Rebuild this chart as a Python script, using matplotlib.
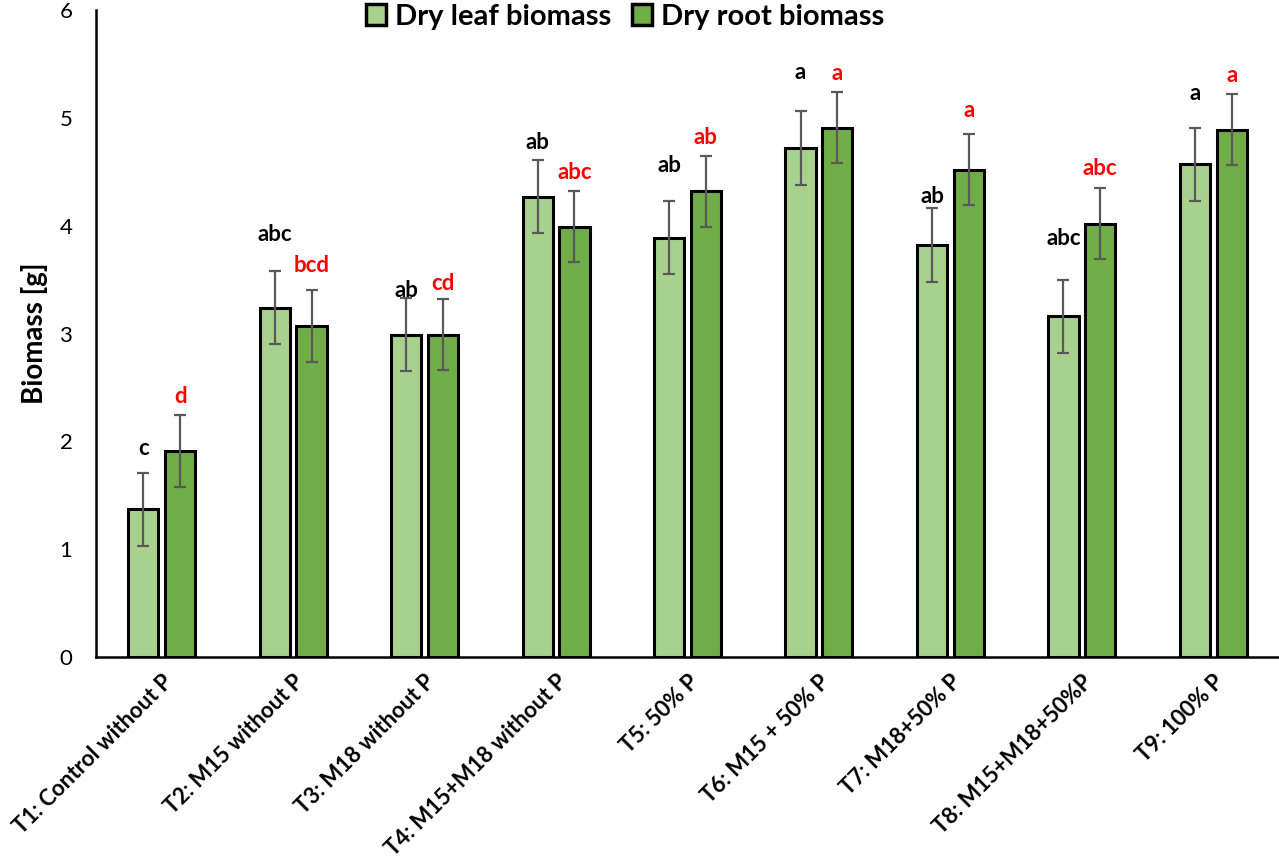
import matplotlib
matplotlib.use("Agg")
import matplotlib.pyplot as plt
import numpy as np

categories = ["T1: Control without P", "T2: M15 without P", "T3: M18 without P",
              "T4: M15+M18 without P", "T5: 50% P", "T6: M15 + 50% P",
              "T7: M18+50% P", "T8: M15+M18+50%P", "T9: 100% P"]
leaf = [1.37, 3.24, 2.99, 4.27, 3.89, 4.72, 3.82, 3.16, 4.57]
root = [1.91, 3.07, 2.99, 3.99, 4.32, 4.91, 4.52, 4.02, 4.89]
leaf_err = [0.34, 0.34, 0.34, 0.34, 0.34, 0.34, 0.34, 0.34, 0.34]
root_err = [0.33, 0.33, 0.33, 0.33, 0.33, 0.33, 0.33, 0.33, 0.33]
leaf_letters = ["c", "abc", "ab", "ab", "ab", "a", "ab", "abc", "a"]
root_letters = ["d", "bcd", "cd", "abc", "ab", "a", "a", "abc", "a"]

# label gaps above error bar tops (styling)
leaf_gap = [0.22, 0.34, 0.07, 0.16, 0.33, 0.36, 0.11, 0.38, 0.32]
root_gap = [0.18, 0.23, 0.14, 0.17, 0.17, 0.17, 0.22, 0.18, 0.17]

plt.rcParams['font.family'] = ['Lato', 'DejaVu Sans']

fig = plt.figure(figsize=(12.79, 8.65), dpi=100)
ax = fig.add_axes([96/1279, 1-657/865, 1-96/1279, (657-10)/865])

x = np.arange(len(categories))
w = 0.23
off = 0.14
leaf_c = "#A9D18E"
root_c = "#70AD47"
ek = dict(ecolor="#595959", elinewidth=1.6, capsize=4, capthick=1.6)

ax.bar(x - off, leaf, w, color=leaf_c, edgecolor="black", linewidth=2.2,
       yerr=leaf_err, error_kw=ek, label="Dry leaf biomass", zorder=2)
ax.bar(x + off, root, w, color=root_c, edgecolor="black", linewidth=2.2,
       yerr=root_err, error_kw=ek, label="Dry root biomass", zorder=2)

for i in range(len(categories)):
    ax.text(x[i] - off, leaf[i] + leaf_err[i] + leaf_gap[i], leaf_letters[i],
            ha="center", va="center", fontsize=16, fontweight="bold", color="black")
    ax.text(x[i] + off, root[i] + root_err[i] + root_gap[i], root_letters[i],
            ha="center", va="center", fontsize=16, fontweight="bold", color="#FF0000")

ax.set_xlim(-0.5, len(categories) - 0.5)
ax.set_ylim(0, 6)
ax.set_yticks(range(0, 7))
ax.tick_params(axis="y", length=0, labelsize=16, pad=17)
ax.tick_params(axis="x", length=0, pad=10)
ax.set_xticks(x)
ax.set_xticklabels(categories, rotation=45, ha="right", rotation_mode="anchor",
                   fontsize=16, fontweight="bold")
for s in ["top", "right"]:
    ax.spines[s].set_visible(False)
for s in ["left", "bottom"]:
    ax.spines[s].set_linewidth(1.8)
ax.set_ylabel("Biomass [g]", fontsize=20, fontweight="bold", labelpad=8)

leg = ax.legend(loc="upper center", bbox_to_anchor=(0.447, 1.05), ncol=2, frameon=False,
                prop={"size": 21, "weight": "bold"}, handlelength=0.7, handleheight=0.7,
                handletextpad=0.3, columnspacing=0.7)
for h in leg.legend_handles:
    h.set_linewidth(2.5)

fig.savefig("out.png", dpi=100)
